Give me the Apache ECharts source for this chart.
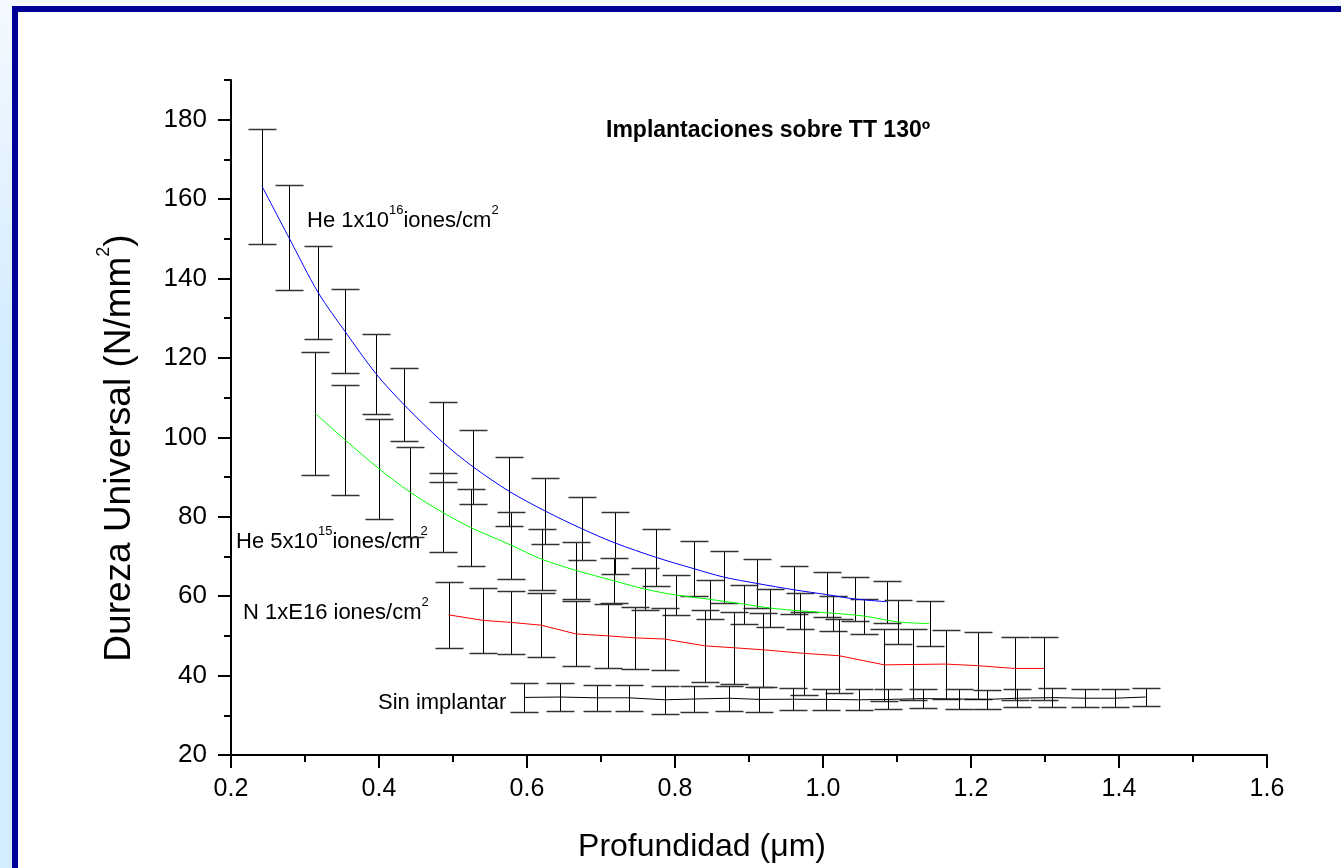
<!DOCTYPE html>
<html>
<head>
<meta charset="utf-8">
<script src="https://cdn.jsdelivr.net/npm/echarts@6/dist/echarts.min.js"></script>
<style>
html,body{margin:0;padding:0;width:1341px;height:868px;overflow:hidden;background:#f4f9ff;}
#strip{position:absolute;left:0;top:0;width:12px;height:868px;background:linear-gradient(#f4f9ff,#d4ecff 40%,#d4ecff);}
#frame{position:absolute;left:12px;top:6px;right:0;bottom:0;border-left:6px solid #000099;border-top:6px solid #000099;background:#fff;}
#chart{position:absolute;left:0;top:0;width:1341px;height:868px;}
</style>
</head>
<body>
<div id="strip"></div>
<div id="frame"></div>
<div id="chart"></div>
<script>
// ---- data ----
const xMajorTicks = [0.2, 0.4, 0.6, 0.8, 1.0, 1.2, 1.4, 1.6];
const xMinorTicks = [0.3, 0.5, 0.7, 0.9, 1.1, 1.3, 1.5];
const yMajorTicks = [20, 40, 60, 80, 100, 120, 140, 160, 180];
const yMinorTicks = [30, 50, 70, 90, 110, 130, 150, 170, 190];

// He 1x10^16 iones/cm^2 (blue)
const he16X   = [0.242,0.278,0.318,0.354,0.396,0.434,0.486,0.527,0.576,0.624,0.674,0.719,0.774,0.826,0.866,0.911,0.961,1.005,1.043,1.086];
const he16Y   = [163.2,150.4,136.4,126.7,116.0,108.2,98.8,92.6,86.4,81.5,77.0,73.4,69.8,66.9,64.8,63.2,61.6,60.4,59.3,58.6];
const he16Err = [14.5,13.2,11.7,10.6,10.0,9.2,10.0,9.3,8.7,8.3,8.0,7.8,7.2,6.9,6.5,6.2,6.0,5.7,5.5,5.3];

// He 5x10^15 iones/cm^2 (green)
const he15X   = [0.314,0.354,0.400,0.442,0.486,0.524,0.579,0.620,0.666,0.717,0.759,0.801,0.847,0.893,0.929,0.969,1.014,1.055,1.102,1.144];
const he15Y   = [106.0,99.4,92.1,86.2,81.1,77.3,72.8,69.3,66.5,63.9,61.8,60.3,59.2,58.0,57.0,56.3,55.7,55.0,53.5,53.1];
const he15Err = [15.6,13.8,12.6,11.3,10.0,9.7,8.5,7.7,7.1,5.7,5.3,5.1,5.0,4.9,4.8,4.6,4.4,4.4,5.6,5.7];

// N 1xE16 iones/cm^2 (red)
const n16X   = [0.494,0.541,0.578,0.619,0.666,0.710,0.746,0.786,0.840,0.880,0.919,0.974,1.022,1.083,1.122,1.166,1.209,1.259,1.299];
const n16Y   = [55.3,53.9,53.4,52.7,50.5,50.0,49.5,49.2,47.5,47.0,46.5,45.6,45.0,42.7,42.8,42.9,42.5,41.8,41.8];
const n16Err = [8.3,8.1,7.9,8.0,8.2,8.1,7.9,7.9,9.0,9.0,9.3,10.5,9.3,9.1,9.0,8.7,8.4,7.9,7.9];

// Sin implantar (black)
const sinX   = [0.596,0.645,0.694,0.738,0.787,0.826,0.873,0.914,0.959,1.004,1.048,1.088,1.135,1.184,1.222,1.262,1.310,1.354,1.394,1.436];
const sinY   = [34.5,34.6,34.4,34.4,33.9,34.1,34.3,34.0,34.05,34.0,33.9,34.0,34.2,34.1,34.0,34.3,34.45,34.3,34.3,34.6];
const sinErr = [3.55,3.5,3.3,3.3,3.6,3.3,3.1,3.1,2.8,2.7,2.6,2.5,2.4,2.4,2.3,2.2,2.3,2.2,2.2,2.2];

// ---- helpers ----
const pts = (xs, ys) => xs.map((x, i) => [x, ys[i]]);
const bars = (xs, ys, es) => xs.map((x, i) => [x, ys[i] - es[i], ys[i] + es[i]]);

function renderErr(params, api) {
  const x = api.value(0);
  const pLo = api.coord([x, api.value(1)]);
  const pHi = api.coord([x, api.value(2)]);
  const cx = Math.round(pLo[0]) + 0.5;
  const yl = Math.round(pLo[1]) + 0.5;
  const yh = Math.round(pHi[1]) + 0.5;
  const hw = 14;
  const st = { stroke: '#000', lineWidth: 1 };
  const cap = { stroke: '#333', lineWidth: 1.5 };
  return {
    type: 'group',
    children: [
      { type: 'line', shape: { x1: cx, y1: yh, x2: cx, y2: yl }, style: st },
      { type: 'line', shape: { x1: cx - hw, y1: yh, x2: cx + hw, y2: yh }, style: cap },
      { type: 'line', shape: { x1: cx - hw, y1: yl, x2: cx + hw, y2: yl }, style: cap }
    ]
  };
}
function errSeries(xs, ys, es) {
  return {
    type: 'custom', xAxisIndex: 0, yAxisIndex: 0,
    renderItem: renderErr,
    dimensions: ['x', 'lo', 'hi'],
    encode: { x: 0, y: [1, 2] },
    data: bars(xs, ys, es), z: 2, silent: true
  };
}
function lineSeries(xs, ys, color, smooth) {
  return {
    type: 'line', xAxisIndex: 0, yAxisIndex: 0,
    data: pts(xs, ys), showSymbol: false, symbol: 'none',
    smooth: smooth, lineStyle: { color: color, width: 1 }, z: 3, silent: true
  };
}

const FONT = '"Liberation Sans", Arial, sans-serif';
const axisLineStyle = { color: '#000', width: 2 };

const supRich = (big, lh, small, slh) => ({
  a: { fontSize: big, fontFamily: FONT, color: '#000', lineHeight: lh, verticalAlign: 'middle' },
  s: { fontSize: small, fontFamily: FONT, color: '#000', lineHeight: slh, verticalAlign: 'top' }
});

const chart = echarts.init(document.getElementById('chart'), null, { renderer: 'canvas' });
chart.setOption({
  animation: false,
  backgroundColor: 'transparent',
  grid: { left: 231, top: 80, width: 1036, height: 675, containLabel: false },
  xAxis: [
    {
      type: 'value', min: 0.2, max: 1.6, position: 'bottom',
      axisLine: { show: true, lineStyle: axisLineStyle },
      axisTick: { show: true, length: 13, customValues: xMajorTicks, lineStyle: axisLineStyle },
      axisLabel: { customValues: xMajorTicks, formatter: v => v.toFixed(1), fontSize: 25, fontFamily: FONT, color: '#000', margin: 22 },
      splitLine: { show: false }
    },
    {
      type: 'value', min: 0.2, max: 1.6, position: 'bottom',
      axisLine: { show: false },
      axisTick: { show: true, length: 7, customValues: xMinorTicks, lineStyle: axisLineStyle },
      axisLabel: { show: false },
      splitLine: { show: false }
    }
  ],
  yAxis: [
    {
      type: 'value', min: 20, max: 190, position: 'left',
      axisLine: { show: true, lineStyle: axisLineStyle },
      axisTick: { show: true, length: 13, customValues: yMajorTicks, lineStyle: axisLineStyle },
      axisLabel: { customValues: yMajorTicks, fontSize: 26, fontFamily: FONT, color: '#000', margin: 24 },
      splitLine: { show: false }
    },
    {
      type: 'value', min: 20, max: 190, position: 'left',
      axisLine: { show: false },
      axisTick: { show: true, length: 7, customValues: yMinorTicks, lineStyle: axisLineStyle },
      axisLabel: { show: false },
      splitLine: { show: false }
    }
  ],
  series: [
    errSeries(he16X, he16Y, he16Err),
    errSeries(he15X, he15Y, he15Err),
    errSeries(n16X, n16Y, n16Err),
    errSeries(sinX, sinY, sinErr),
    lineSeries(he16X, he16Y, '#0000ff', 0.3),
    lineSeries(he15X, he15Y, '#00ff00', 0.3),
    lineSeries(n16X, n16Y, '#ff0000', false),
    lineSeries(sinX, sinY, '#000000', false)
  ],
  graphic: [
    { type: 'text', x: 606, y: 131, silent: true,
      style: { text: 'Implantaciones sobre TT 130º', font: 'bold 23px ' + FONT, fill: '#000', verticalAlign: 'middle' } },
    { type: 'text', x: 307, y: 221, silent: true,
      style: { text: '{a|He 1x10}{s|16}{a|iones/cm}{s|2}', rich: supRich(22, 34, 13, 12), verticalAlign: 'middle' } },
    { type: 'text', x: 236, y: 542, silent: true,
      style: { text: '{a|He 5x10}{s|15}{a|iones/cm}{s|2}', rich: supRich(22, 34, 13, 12), verticalAlign: 'middle' } },
    { type: 'text', x: 243, y: 613, silent: true,
      style: { text: '{a|N 1xE16 iones/cm}{s|2}', rich: supRich(22, 34, 13, 12), verticalAlign: 'middle' } },
    { type: 'text', x: 378, y: 703, silent: true,
      style: { text: 'Sin implantar', font: '22px ' + FONT, fill: '#000', verticalAlign: 'middle' } },
    { type: 'text', x: 702, y: 847, silent: true,
      style: { text: 'Profundidad (μm)', font: '32px ' + FONT, fill: '#000', align: 'center', verticalAlign: 'middle' } },
    { type: 'text', x: 120, y: 448, rotation: Math.PI / 2, silent: true,
      style: { text: '{a|Dureza Universal (N/mm}{s|2}{a|)}', rich: supRich(37, 50, 18, 18), align: 'center', verticalAlign: 'middle' } }
  ]
});
</script>
</body>
</html>
